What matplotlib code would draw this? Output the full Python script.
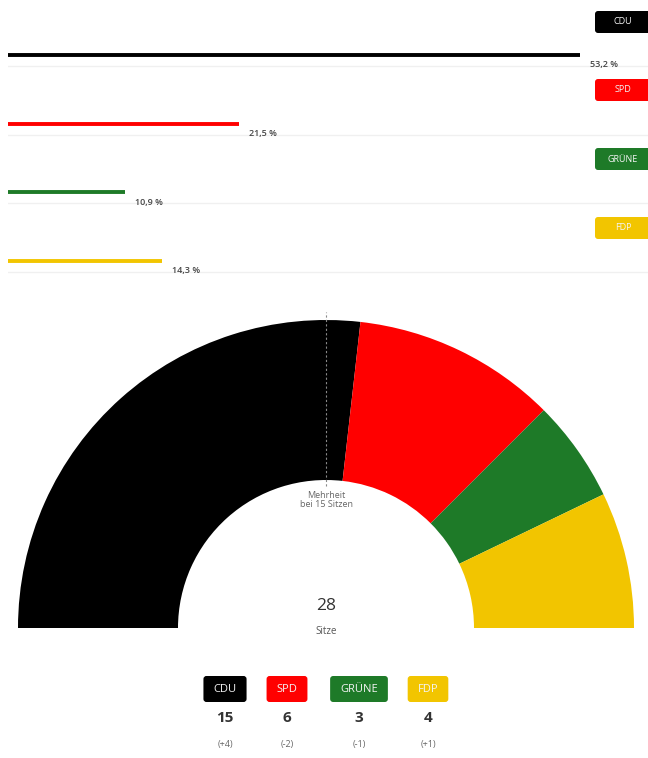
import matplotlib
matplotlib.use("Agg")
import matplotlib.pyplot as plt
from matplotlib.patches import Wedge, FancyBboxPatch
import matplotlib.transforms as mtransforms

plt.rcParams['font.family'] = ['Open Sans', 'DejaVu Sans']

parties = ["CDU", "SPD", "GRÜNE", "FDP"]
colors = ["#000000", "#ff0000", "#1e7a28", "#f2c500"]
vote_share = [53.2, 21.5, 10.9, 14.3]
vote_labels = ["53,2 %", "21,5 %", "10,9 %", "14,3 %"]
seats = [15, 6, 3, 4]
seat_change = ["(+4)", "(-2)", "(-1)", "(+1)"]
total_seats = 28
majority = 15

W, H = 648, 758
fig = plt.figure(figsize=(W/100, H/100), dpi=100)

# full-figure pixel axes for semicircle, badges and legend
ax = fig.add_axes([0, 0, 1, 1])
ax.set_xlim(0, W)
ax.set_ylim(0, H)
ax.axis('off')

# ---------- bar section ----------
axb = fig.add_axes([8/W, 1 - 280/H, 640/W, 280/H])
axb.set_xlim(0, 59.5)
axb.set_ylim(3.275, -0.8)
axb.axis('off')
for i, (p, v, c, lab) in enumerate(zip(parties, vote_share, colors, vote_labels)):
    axb.axhline(i + 0.16, color="#f0f0f0", lw=1, zorder=0)
    axb.hlines(i, 0, v, color=c, lw=2.8, zorder=2)
    axb.annotate(lab, xy=(v, i), xytext=(7, -7), textcoords="offset points",
                 fontsize=6.5, color="#444444", fontweight="semibold", va="center", ha="left")

# top-right badges (fixed box, partially cut by figure edge)
badge_y_top = [22, 90, 159, 228]
for p, c, yb in zip(parties, colors, badge_y_top):
    ax.add_patch(FancyBboxPatch((595, H - yb - 11), 60, 22,
                                boxstyle="round,pad=0,rounding_size=3",
                                fc=c, ec="none"))
    ax.text(623, H - yb, p, ha="center", va="center", fontsize=6.5, color="#f4f4f4")

# ---------- parliament semicircle ----------
cx, cy = 326, H - 628
r_out, r_in = 308, 148
start = 180.0
for s, c in zip(seats, colors):
    span = 180.0 * s / total_seats
    ax.add_patch(Wedge((cx, cy), r_out, start - span, start, width=r_out - r_in,
                       facecolor=c, edgecolor="none"))
    start -= span

ax.plot([cx, cx], [cy + r_in - 6, cy + r_out + 8], color="#888888", lw=0.8,
        linestyle=(0, (2, 2)))
ax.text(cx, cy + r_in - 20, f"Mehrheit\nbei {majority} Sitzen", ha="center", va="center",
        fontsize=6.5, color="#666666", linespacing=0.95)
ax.text(cx, H - 606, str(total_seats), ha="center", va="center", fontsize=12.5,
        color="#333333", fontweight="medium")
ax.text(cx, H - 631, "Sitze", ha="center", va="center", fontsize=7, color="#555555")

# ---------- bottom legend ----------
leg_x = [225, 287, 359, 428]
fig.canvas.draw()
renderer = fig.canvas.get_renderer()
for x, p, c, s, ch in zip(leg_x, parties, colors, seats, seat_change):
    t = ax.text(x, H - 689, p, ha="center", va="center", fontsize=8, color="#f4f4f4", zorder=3)
    bb = t.get_window_extent(renderer)
    wpx = bb.width + 20
    ax.add_patch(FancyBboxPatch((x - wpx/2, H - 702), wpx, 26,
                                boxstyle="round,pad=0,rounding_size=3",
                                fc=c, ec="none", zorder=2))
    ax.text(x, H - 718, str(s), ha="center", va="center", fontsize=11,
            fontweight="bold", color="#333333")
    ax.text(x, H - 744, ch, ha="center", va="center", fontsize=6.5, color="#666666")

fig.savefig("out.png", dpi=100, facecolor="white")
